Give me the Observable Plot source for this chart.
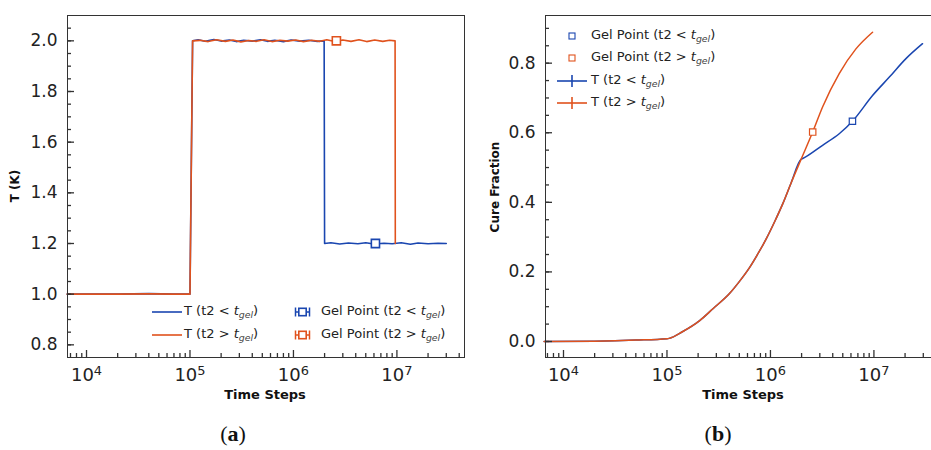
<!DOCTYPE html>
<html><head><meta charset="utf-8">
<script src="https://cdn.jsdelivr.net/npm/d3@7"></script>
<script src="https://cdn.jsdelivr.net/npm/@observablehq/plot@0.6"></script>
<style>
body{margin:0;background:#fff;}
#wrap{position:relative;width:931px;height:450px;overflow:hidden;font-family:"DejaVu Sans",sans-serif;background:#fff;}
.lab{position:absolute;font-weight:bold;color:#111;white-space:nowrap;line-height:1;}
.leg{position:absolute;font-size:13px;color:#222;white-space:nowrap;display:flex;align-items:center;height:18px;line-height:1;}
.leg span{white-space:pre;}
.leg sub{font-size:0.72em;vertical-align:-0.35em;font-style:italic;color:#444;}
.leg i{font-style:italic;}
.cap{position:absolute;font-family:"Liberation Serif",serif;font-size:22px;color:#111;transform:translateX(-50%);line-height:1;}
</style>
</head><body>
<div id="wrap"></div>
<script>
// ---------- data ----------
const blue = "#1a46b0";
const orange = "#e0521d";

// Panel (a): temperature schedule
const tempTimeBlue = [6500, 2e4, 4e4, 7e4, 1e5, 1.06e5, 1.2e5, 1.4e5, 1.7e5, 2e5, 2.4e5, 2.8e5, 3.3e5, 4e5, 4.8e5, 5.6e5, 6.6e5, 8e5, 9.5e5, 1.15e6, 1.4e6, 1.7e6, 1.98e6, 2.0e6, 2.3e6, 2.8e6, 3.4e6, 4.2e6, 5e6, 6e6, 7.5e6, 9e6, 1.1e7, 1.35e7, 1.6e7, 2e7, 2.5e7, 3e7];
const tempBlue = [1.0, 1.0, 1.002, 1.0, 1.0, 2.0, 2.004, 1.998, 2.005, 1.999, 2.003, 1.997, 2.002, 1.999, 2.004, 1.998, 2.002, 1.997, 2.003, 1.999, 2.002, 1.998, 2.0, 1.2, 1.203, 1.198, 1.202, 1.199, 1.203, 1.198, 1.201, 1.199, 1.203, 1.197, 1.202, 1.199, 1.201, 1.2];
const tempTimeOrange = [6500, 2e4, 4e4, 7e4, 1e5, 1.06e5, 1.25e5, 1.5e5, 1.8e5, 2.2e5, 2.6e5, 3.1e5, 3.7e5, 4.4e5, 5.2e5, 6.2e5, 7.4e5, 8.8e5, 1.05e6, 1.25e6, 1.5e6, 1.8e6, 2.1e6, 2.5e6, 3e6, 3.6e6, 4.3e6, 5.1e6, 6.1e6, 7.3e6, 8.5e6, 9.6e6, 9.65e6];
const tempOrange = [1.0, 1.0, 1.001, 1.0, 1.0, 2.0, 2.002, 1.997, 2.004, 1.998, 2.003, 1.996, 2.001, 1.998, 2.004, 1.997, 2.002, 1.999, 2.003, 1.997, 2.002, 1.998, 2.004, 1.997, 2.003, 1.998, 2.004, 1.997, 2.003, 1.998, 2.002, 2.0, 1.2];
const gelTempTime = [6.2e6, 2.6e6];
const gelTemp = [1.2, 2.0];

// Panel (b): cure fraction
const cureTime = [6500, 2e4, 5e4, 1e5, 1.05e5, 1.41e5, 2.07e5, 2.8e5, 4.0e5, 5e5, 6.3e5, 7.6e5, 9.1e5, 1.1e6, 1.32e6, 1.58e6, 1.98e6, 2.56e6, 3.19e6, 4.62e6, 6.7e6, 9.7e6];
const cureOrange = [0.0, 0.001, 0.004, 0.008, 0.009, 0.028, 0.06, 0.095, 0.137, 0.172, 0.213, 0.253, 0.295, 0.345, 0.397, 0.455, 0.524, 0.602, 0.674, 0.77, 0.841, 0.889];
const branchTimeBlue = [2.05e6, 3.19e6, 4.62e6, 6.2e6, 9.7e6, 1.41e7, 2.04e7, 2.95e7];
const branchCureBlue = [0.526, 0.564, 0.597, 0.633, 0.707, 0.76, 0.813, 0.856];
const gelCureTime = [6.2e6, 2.56e6];
const gelCure = [0.633, 0.602];

// ticks
const xMajor = [1e4, 1e5, 1e6, 1e7];
const xMinor = [7e3, 8e3, 9e3, 2e4, 3e4, 4e4, 5e4, 6e4, 7e4, 8e4, 9e4, 2e5, 3e5, 4e5, 5e5, 6e5, 7e5, 8e5, 9e5, 2e6, 3e6, 4e6, 5e6, 6e6, 7e6, 8e6, 9e6, 2e7, 3e7, 4e7];
const yMajorA = [0.8, 1.0, 1.2, 1.4, 1.6, 1.8, 2.0];
const yMinorA = [0.8, 0.85, 0.9, 0.95, 1.0, 1.05, 1.1, 1.15, 1.2, 1.25, 1.3, 1.35, 1.4, 1.45, 1.5, 1.55, 1.6, 1.65, 1.7, 1.75, 1.8, 1.85, 1.9, 1.95, 2.0, 2.05];
const yMajorB = [0.0, 0.2, 0.4, 0.6, 0.8];
const yMinorB = [0.0, 0.05, 0.1, 0.15, 0.2, 0.25, 0.3, 0.35, 0.4, 0.45, 0.5, 0.55, 0.6, 0.65, 0.7, 0.75, 0.8, 0.85, 0.9];

// ---------- build tables ----------
const lineA = [
  ...tempTimeBlue.map((t, i) => ({t, v: tempBlue[i], s: "blue"})),
  ...tempTimeOrange.map((t, i) => ({t, v: tempOrange[i], s: "orange"}))
];
const gelA = gelTempTime.map((t, i) => ({t, v: gelTemp[i], s: i === 0 ? "blue" : "orange"}));
const prefixEnd = cureTime.indexOf(1.98e6);
const lineB = [
  ...cureTime.slice(0, prefixEnd + 1).map((t, i) => ({t, v: cureOrange[i], s: "blue"})),
  ...branchTimeBlue.map((t, i) => ({t, v: branchCureBlue[i], s: "blue"})),
  ...cureTime.map((t, i) => ({t, v: cureOrange[i], s: "orange"}))
];
const gelB = gelCureTime.map((t, i) => ({t, v: gelCure[i], s: i === 0 ? "blue" : "orange"}));
const colorOf = s => s === "blue" ? blue : orange;

// inward tick marks drawn by Plot axis marks (tick only; labels suppressed)
function tickMarks(yMajor, yMinor) {
  const s = "#333";
  return [
    Plot.axisX({ticks: xMinor, tickSize: 4, dy: -4, stroke: s, strokeWidth: 1.3, fill: "none", tickFormat: () => "", label: null}),
    Plot.axisX({ticks: xMajor, tickSize: 7, dy: -7, stroke: s, strokeWidth: 1.3, fill: "none", tickFormat: () => "", label: null}),
    Plot.axisY({ticks: yMinor, tickSize: 4, dx: 4, stroke: s, strokeWidth: 1.3, fill: "none", tickFormat: () => "", label: null}),
    Plot.axisY({ticks: yMajor, tickSize: 7, dx: 7, stroke: s, strokeWidth: 1.3, fill: "none", tickFormat: () => "", label: null})
  ];
}
function tickLabels(yMajor) {
  return [
    Plot.axisX({ticks: xMajor, tickSize: 0, tickPadding: 11, fontSize: 18, fill: "#222",
      tickFormat: d => "10^" + Math.round(Math.log10(d)), label: null}),
    Plot.axisY({ticks: yMajor, tickSize: 0, tickPadding: 10, fontSize: 17, fill: "#222",
      tickFormat: d3.format(".1f"), label: null})
  ];
}

function fixSup(svg) {
  svg.querySelectorAll("text").forEach(el => {
    const m = /^10\^(\d+)$/.exec(el.textContent);
    if (m) el.innerHTML = `10<tspan dy="-0.5em" font-size="0.72em">${m[1]}</tspan>`;
  });
}

const baseStyle = {fontFamily: "DejaVu Sans", fontSize: "17px", color: "#222"};
const layoutA = {width: 470, height: 405, marginTop: 15, marginBottom: 48, marginLeft: 67, marginRight: 6};
const layoutB = {width: 472, height: 405, marginTop: 15, marginBottom: 48, marginLeft: 75, marginRight: 0};

const plotA = Plot.plot({
  ...layoutA, style: baseStyle,
  x: {type: "log", domain: [6550, 4.5e7]},
  y: {domain: [0.75, 2.1]},
  marks: [
    ...tickLabels(yMajorA),
    Plot.line(lineA, {x: "t", y: "v", z: "s", stroke: d => colorOf(d.s), strokeWidth: 1.6}),
    Plot.dot(gelA, {x: "t", y: "v", symbol: "square", r: 4.6, fill: "white", stroke: d => colorOf(d.s), strokeWidth: 1.6}),
    ...tickMarks(yMajorA, yMinorA),
    Plot.frame({stroke: "#333"})
  ]
});

const plotB = Plot.plot({
  ...layoutB, style: baseStyle,
  x: {type: "log", domain: [6700, 4.6e7]},
  y: {domain: [-0.046, 0.937]},
  marks: [
    ...tickLabels(yMajorB),
    Plot.line(lineB, {x: "t", y: "v", z: "s", stroke: d => colorOf(d.s), strokeWidth: 1.5, curve: "monotone-x"}),
    Plot.dot(gelB, {x: "t", y: "v", symbol: "square", r: 3.6, fill: "white", stroke: d => colorOf(d.s), strokeWidth: 1.2}),
    ...tickMarks(yMajorB, yMinorB),
    Plot.frame({stroke: "#333"})
  ]
});

fixSup(plotA); fixSup(plotB);
const wrap = document.getElementById("wrap");
plotA.style.position = "absolute"; plotA.style.top = "0px"; plotA.style.left = "0px";
plotB.style.position = "absolute"; plotB.style.top = "0px"; plotB.style.left = "470px";
wrap.appendChild(plotA); wrap.appendChild(plotB);

function addDiv(cls, html, css) {
  const d = document.createElement("div");
  d.className = cls; d.innerHTML = html;
  Object.assign(d.style, css);
  wrap.appendChild(d);
  return d;
}
const tgel = `<i>t</i><sub>gel</sub>`;
const lt = txt => `<span>${txt}${tgel})</span>`;
// axis labels
addDiv("lab", "T (K)", {left: "15px", top: "186px", fontSize: "12px", transform: "translate(-50%,-50%) rotate(-90deg)"});
addDiv("lab", "Time Steps", {left: "265px", top: "394px", fontSize: "13px", transform: "translate(-50%,-50%)"});
addDiv("lab", "Time Steps", {left: "743px", top: "394px", fontSize: "13px", transform: "translate(-50%,-50%)"});
addDiv("lab", "Cure Fraction", {left: "495px", top: "187px", fontSize: "12px", transform: "translate(-50%,-50%) rotate(-90deg)"});

// legend (a)
const lineSwatch = c => `<svg width="30" height="18" style="margin-right:2px"><line x1="0" x2="30" y1="9" y2="9" stroke="${c}" stroke-width="1.6"/></svg>`;
const errSwatch = c => `<svg width="17" height="18" style="margin-right:10px"><line x1="1" x2="16" y1="9" y2="9" stroke="${c}" stroke-width="1.5"/><line x1="1.5" x2="1.5" y1="4.5" y2="13.5" stroke="${c}" stroke-width="1.5"/><line x1="15.5" x2="15.5" y1="4.5" y2="13.5" stroke="${c}" stroke-width="1.5"/><rect x="4.8" y="5.3" width="7.4" height="7.4" fill="white" stroke="${c}" stroke-width="1.6"/></svg>`;
addDiv("leg", lineSwatch(blue) + lt("T (t2 &lt; "), {left: "152px", top: "303px"});
addDiv("leg", lineSwatch(orange) + lt("T (t2 &gt; "), {left: "152px", top: "326px"});
addDiv("leg", errSwatch(blue) + lt("Gel Point (t2 &lt; "), {left: "294px", top: "303px"});
addDiv("leg", errSwatch(orange) + lt("Gel Point (t2 &gt; "), {left: "294px", top: "326px"});

// legend (b)
const sqSwatch = c => `<svg width="34" height="18" style="margin-right:0px"><rect x="12" y="6" width="6" height="6" fill="white" stroke="${c}" stroke-width="1.1"/></svg>`;
const crossSwatch = c => `<svg width="34" height="18" style="margin-right:0px"><line x1="0" x2="30" y1="9" y2="9" stroke="${c}" stroke-width="1.6"/><line x1="15" x2="15" y1="3" y2="15" stroke="${c}" stroke-width="1.6"/></svg>`;
addDiv("leg", sqSwatch(blue) + lt("Gel Point (t2 &lt; "), {left: "557px", top: "27px"});
addDiv("leg", sqSwatch(orange) + lt("Gel Point (t2 &gt; "), {left: "557px", top: "49px"});
addDiv("leg", crossSwatch(blue) + lt("T (t2 &lt; "), {left: "557px", top: "72px"});
addDiv("leg", crossSwatch(orange) + lt("T (t2 &gt; "), {left: "557px", top: "94px"});

// captions
addDiv("cap", "(<b>a</b>)", {left: "233px", top: "423px"});
addDiv("cap", "(<b>b</b>)", {left: "718px", top: "423px"});
</script>
</body></html>
